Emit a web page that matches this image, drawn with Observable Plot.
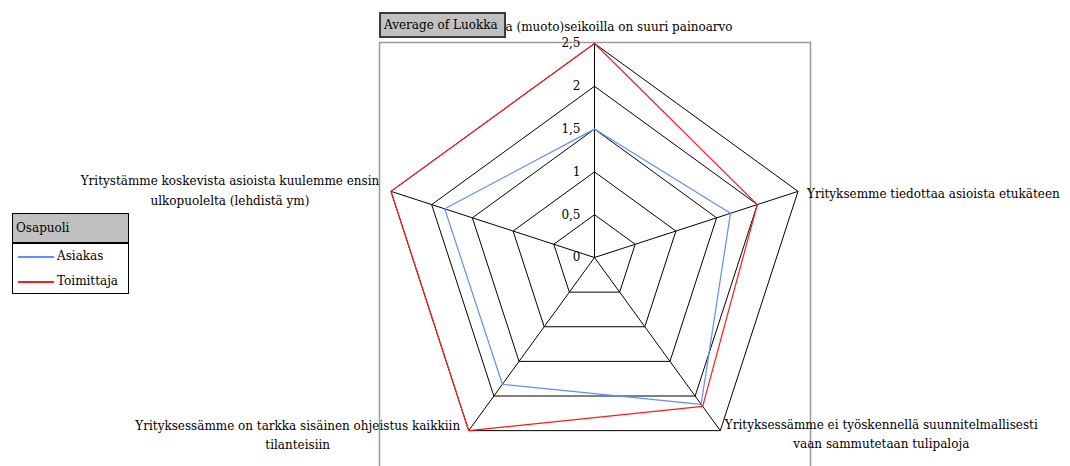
<!DOCTYPE html>
<html>
<head>
<meta charset="utf-8">
<script src="https://cdn.jsdelivr.net/npm/d3@7"></script>
<script src="https://cdn.jsdelivr.net/npm/@observablehq/plot@0.6"></script>
<style>
  html, body { margin: 0; padding: 0; background: #fff; }
  #wrap { position: relative; width: 1070px; height: 466px; overflow: hidden; font-family: "DejaVu Serif", serif; }
  #chart { position: absolute; left: 0; top: 0; }
  .fieldbtn {
    position: absolute; left: 379px; top: 12px; width: 120px; height: 22px;
    background: #c0c0c0; border: 2px solid #3a3a3a; font-size: 12px; line-height: 22px;
    padding-left: 3px; color: #000; white-space: nowrap; box-sizing: content-box;
  }
  .legend {
    position: absolute; left: 12px; top: 213px; width: 115px; height: 79px;
    border: 1px solid #000; background: #fff; font-size: 12px;
  }
  .legend .head {
    background: #c0c0c0; border-bottom: 2px solid #000;
    line-height: 28px; padding-left: 3px; box-sizing: border-box; height: 30px;
  }
  .legend .row { position: relative; height: 25px; line-height: 25px; padding-left: 44px; }
  .legend .swatch { position: absolute; left: 5px; top: 12px; width: 36px; height: 2px; }
</style>
</head>
<body>
<div id="wrap">
  <div id="chart"></div>
  <div class="fieldbtn">Average of Luokka</div>
  <div class="legend" id="legend"></div>
</div>
<script>
// Radar chart: average "Luokka" per statement, by party (Osapuoli)
const statements = [
  "a (muoto)seikoilla on suuri painoarvo",
  "Yrityksemme tiedottaa asioista etukäteen",
  "Yrityksessämme ei työskennellä suunnitelmallisesti\nvaan sammutetaan tulipaloja",
  "Yrityksessämme on tarkka sisäinen ohjeistus kaikkiin\ntilanteisiin",
  "Yritystämme koskevista asioista kuulemme ensin\nulkopuolelta (lehdistä ym)"
];
const seriesNames = ["Asiakas", "Toimittaja"];
const asiakas = [1.5, 1.67, 2.12, 1.83, 1.84];
const toimittaja = [2.5, 2.0, 2.15, 2.5, 2.5];
const gridLevels = [0.5, 1, 1.5, 2, 2.5];
const tickValues = [0, 0.5, 1, 1.5, 2, 2.5];
const tickLabels = ["0", "0,5", "1", "1,5", "2", "2,5"];
const maxValue = 2.5;

const colors = {Asiakas: "#5f8dff", Toimittaja: "#ff1a1a"};
const FONT = "DejaVu Serif, serif";
const FS = 12;

// Polar -> cartesian in value units (spoke 0 points straight up, clockwise)
const n = statements.length;
const polar = (i, r) => {
  const a = (i * 2 * Math.PI) / n;
  return {x: r * Math.sin(a), y: r * Math.cos(a)};
};

// Rings of the grid (closed pentagons)
const rings = gridLevels.flatMap(level =>
  d3.range(n + 1).map(i => ({level, ...polar(i % n, level)}))
);

// Spokes
const spokes = d3.range(n).map(i => {
  const end = polar(i, maxValue);
  return {x1: 0, y1: 0, x2: end.x, y2: end.y};
});

// Series polygons
const seriesValues = {Asiakas: asiakas, Toimittaja: toimittaja};
const seriesPts = seriesNames.flatMap(name =>
  d3.range(n + 1).map(i => ({series: name, ...polar(i % n, seriesValues[name][i % n])}))
);

// Category labels sit at the spoke ends, shifted outwards
const labelLayout = [
  {textAnchor: "start", dx: -89, dy: -19},
  {textAnchor: "start", dx: 9, dy: 0},
  {textAnchor: "middle", dx: 161, dy: 2},
  {textAnchor: "middle", dx: -171, dy: 3},
  {textAnchor: "middle", dx: -161, dy: -2.5}
];
const labelMarks = statements.map((s, i) => {
  const p = polar(i, maxValue);
  return Plot.text([{...p, s}], {
    x: "x", y: "y", text: "s",
    ...labelLayout[i],
    lineAnchor: "middle", lineHeight: 1.6,
    fontSize: FS, fill: "#000"
  });
});

const ticks = tickValues.map((v, i) => ({...polar(0, v), label: tickLabels[i]}));

const R = 214, cx = 594, cy = 257;
const chart = Plot.plot({
  width: 1070,
  height: 476,
  marginLeft: 379,
  marginTop: 42,
  marginRight: 260,
  marginBottom: 0,
  x: {type: "linear", domain: [-maxValue, maxValue], range: [cx - R, cx + R], axis: null},
  y: {type: "linear", domain: [-maxValue, maxValue], range: [cy + R, cy - R], axis: null},
  style: {fontFamily: FONT, fontSize: FS + "px", overflow: "visible"},
  marks: [
    Plot.frame({stroke: "#9a9a9a", strokeWidth: 1.5}),
    Plot.line(rings, {x: "x", y: "y", z: "level", stroke: "#000", strokeWidth: 1}),
    Plot.link(spokes, {x1: "x1", y1: "y1", x2: "x2", y2: "y2", stroke: "#000", strokeWidth: 1}),
    Plot.line(seriesPts, {x: "x", y: "y", z: "series", stroke: d => colors[d.series], strokeWidth: 1.2}),
    Plot.text(ticks, {x: "x", y: "y", text: "label", textAnchor: "end", dx: -14, fontSize: FS, fill: "#000"}),
    ...labelMarks
  ]
});
document.getElementById("chart").appendChild(chart);

// Legend
const legend = document.getElementById("legend");
legend.innerHTML = `<div class="head">Osapuoli</div>` +
  seriesNames.map(s => `<div class="row"><span class="swatch" style="background:${colors[s]}"></span>${s}</div>`).join("");
</script>
</body>
</html>
